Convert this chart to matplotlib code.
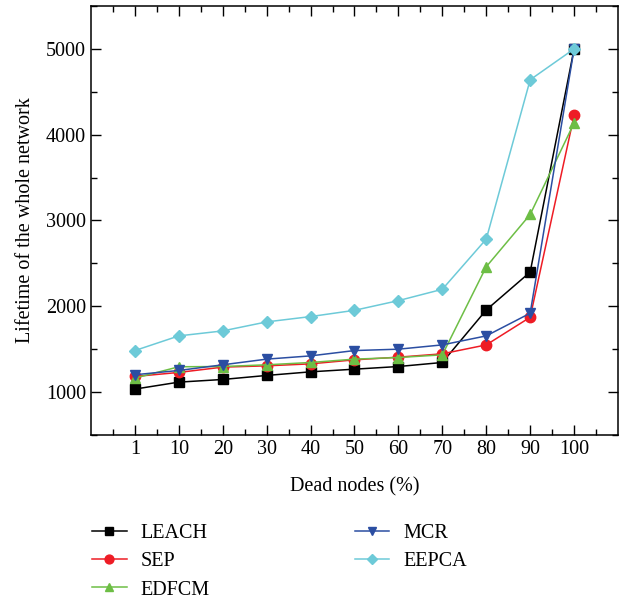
import matplotlib

matplotlib.use("Agg")
import matplotlib.pyplot as plt
from matplotlib.ticker import MultipleLocator

# dead nodes (%) -> network lifetime
dead_labels = ["1", "10", "20", "30", "40", "50", "60", "70", "80", "90", "100"]
leach = [1035, 1116, 1147, 1194, 1236, 1267, 1298, 1345, 1957, 2399, 5000]
sep = [1182, 1229, 1291, 1306, 1329, 1376, 1407, 1446, 1550, 1872, 4225]
edfcm = [1163, 1295, 1298, 1318, 1345, 1384, 1403, 1434, 2461, 3070, 4136]
mcr = [1202, 1252, 1318, 1384, 1422, 1484, 1500, 1550, 1655, 1919, 5000]
eepca = [1484, 1655, 1713, 1818, 1880, 1953, 2066, 2198, 2783, 4640, 5000]

FS = 14.5
plt.rcParams["font.family"] = ["Liberation Serif", "DejaVu Serif"]
plt.rcParams["font.size"] = FS

fig = plt.figure(figsize=(6.24, 5.98), dpi=100)
ax = fig.add_axes([0.1458, 0.2726, 0.8446, 0.7174])

x = list(range(1, len(dead_labels) + 1))
series = (("LEACH", leach, "#000000", "s"),
          ("SEP", sep, "#ee1c25", "o"),
          ("EDFCM", edfcm, "#6dbe45", "^"),
          ("MCR", mcr, "#2b4ea2", "v"),
          ("EEPCA", eepca, "#6dcad8", "D"))
for name, vals, c, m in series:
    ms = 6.5 if m == "D" else 7.5
    ax.plot(x, vals, color=c, lw=1.1, marker=m, ms=ms, mfc=c, mec=c, label=name)

ax.set_xlim(0, 12)
ax.set_ylim(500, 5500)
ax.set_xticks(x)
ax.set_xticklabels(dead_labels)
ax.set_xticks([i + 0.5 for i in range(0, 12)], minor=True)
ax.yaxis.set_major_locator(MultipleLocator(1000))
ax.yaxis.set_minor_locator(MultipleLocator(500))
ax.tick_params(which="both", direction="in", top=True, right=True, labelsize=FS)
ax.tick_params(which="major", length=7, width=1)
ax.tick_params(which="minor", length=4, width=1)
for s in ax.spines.values():
    s.set_linewidth(1.1)

ax.set_xlabel("Dead nodes (%)", fontsize=FS, labelpad=13)
ax.set_ylabel("Lifetime of the whole network", fontsize=FS, labelpad=8)

fig.legend(loc="upper left", bbox_to_anchor=(0.135, 0.137), ncol=2, frameon=False,
           fontsize=FS, handlelength=1.7, handletextpad=0.7, labelspacing=0.45,
           columnspacing=7.2, borderaxespad=0, markerscale=0.85)

fig.savefig("out.png", dpi=100)
